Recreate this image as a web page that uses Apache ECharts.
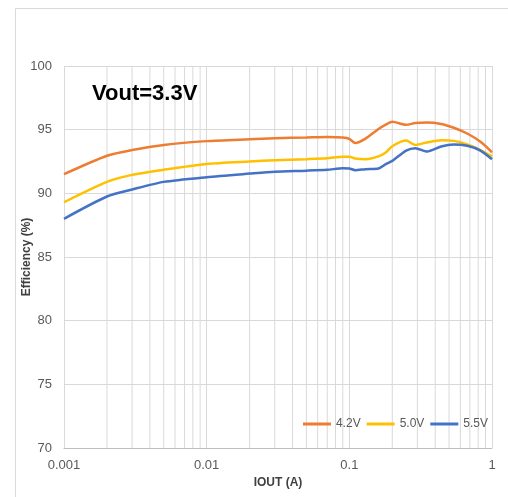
<!DOCTYPE html>
<html>
<head>
<meta charset="utf-8">
<script src="https://cdn.jsdelivr.net/npm/echarts@6/dist/echarts.min.js"></script>
<style>html,body{margin:0;padding:0;background:#fff;}#c{width:508px;height:497px;}</style>
</head>
<body>
<div id="c"></div>
<script>
var iout = [0.001,0.002,0.003,0.005,0.01,0.02,0.03,0.05,0.07,0.09,0.1,0.11,0.13,0.16,0.18,0.2,0.25,0.29,0.35,0.44,0.54,0.67,0.83,1.0];
var eff42 = [91.5,92.95,93.4,93.8,94.1,94.25,94.33,94.38,94.42,94.38,94.28,93.95,94.3,95.05,95.4,95.62,95.38,95.52,95.56,95.45,95.15,94.7,94.05,93.22];
var eff50 = [89.3,90.9,91.45,91.85,92.3,92.5,92.6,92.68,92.75,92.88,92.88,92.73,92.68,92.9,93.2,93.7,94.14,93.8,94.0,94.17,94.12,93.85,93.4,92.9];
var eff55 = [88.0,89.75,90.3,90.9,91.27,91.55,91.7,91.78,91.85,91.97,91.95,91.82,91.9,91.95,92.3,92.55,93.36,93.55,93.28,93.68,93.83,93.73,93.36,92.68];
var seriesNames = ['4.2V','5.0V','5.5V'];
var seriesColors = ['#ED7D31','#FFC000','#4472C4'];
var xTickValues = [0.001,0.01,0.1,1];
var xTickLabels = ['0.001','0.01','0.1','1'];
var minorGrid = [0.002,0.003,0.004,0.005,0.006,0.007,0.008,0.009,0.02,0.03,0.04,0.05,0.06,0.07,0.08,0.09,0.2,0.3,0.4,0.5,0.6,0.7,0.8,0.9];
var yMin = 70, yMax = 100, yStep = 5;
var titleText = 'Vout=3.3V';
var xName = 'IOUT (A)';
var yName = 'Efficiency (%)';

function pairs(ys){ return iout.map(function(x,i){ return [x, ys[i]]; }); }
var allY = [eff42, eff50, eff55];

var chart = echarts.init(document.getElementById('c'), null, {renderer:'canvas'});
var series = [];
minorGrid.forEach(function(v, k){
  series.push({
    name: 'g' + k, type: 'line', z: 1, silent: true, symbol: 'none',
    data: [[v, yMin], [v, yMax]],
    lineStyle: {color: '#d9d9d9', width: 1}, tooltip: {show: false}
  });
});
seriesNames.forEach(function(n, i){
  series.push({
    name: n, type: 'line', z: 3, data: pairs(allY[i]), symbol: 'none', showSymbol: false,
    smooth: 0.25,
    lineStyle: {color: seriesColors[i], width: 2.5},
    itemStyle: {color: seriesColors[i]}
  });
});

chart.setOption({
  animation: false,
  backgroundColor: '#fff',
  textStyle: {fontFamily: 'Liberation Sans, Arial, sans-serif'},
  graphic: [{
    type: 'rect', shape: {x: 15.5, y: 8.5, width: 600, height: 600},
    style: {fill: 'none', stroke: '#d9d9d9', lineWidth: 1}, silent: true, z: -1
  }],
  title: {
    text: titleText, left: 87, top: 78,
    textStyle: {fontSize: 22, fontWeight: 'bold', color: '#000', fontFamily: 'Liberation Sans, Arial, sans-serif'}
  },
  grid: {left: 64, right: 16, top: 66, bottom: 49, containLabel: false},
  legend: {
    data: seriesNames.map(function(n){ return {name: n, icon: 'rect'}; }),
    right: 15, top: 413,
    itemWidth: 28, itemHeight: 3, itemGap: 6,
    textStyle: {fontSize: 12, color: '#595959'}
  },
  xAxis: {
    type: 'log', logBase: 10, min: 0.001, max: 1,
    name: xName, nameLocation: 'middle', nameGap: 29, nameMoveOverlap: false,
    nameTextStyle: {fontSize: 12, fontWeight: 'bold', color: '#404040'},
    axisLine: {show: true, lineStyle: {color: '#bfbfbf'}},
    axisTick: {show: false},
    axisLabel: {fontSize: 13, color: '#595959', margin: 11,
      formatter: function(v){
        for (var i=0;i<xTickValues.length;i++){ if (Math.abs(Math.log10(v)-Math.log10(xTickValues[i]))<1e-6) return xTickLabels[i]; }
        return '';
      }},
    splitLine: {show: true, lineStyle: {color: '#d9d9d9'}}
  },
  yAxis: {
    type: 'value', min: yMin, max: yMax, interval: yStep,
    name: yName, nameLocation: 'middle', nameGap: 31, nameRotate: 90, nameMoveOverlap: false,
    nameTextStyle: {fontSize: 12, fontWeight: 'bold', color: '#404040'},
    axisLine: {show: false}, axisTick: {show: false},
    axisLabel: {fontSize: 13, color: '#595959', margin: 12},
    splitLine: {show: true, lineStyle: {color: '#d9d9d9'}}
  },
  series: series
});
</script>
</body>
</html>
